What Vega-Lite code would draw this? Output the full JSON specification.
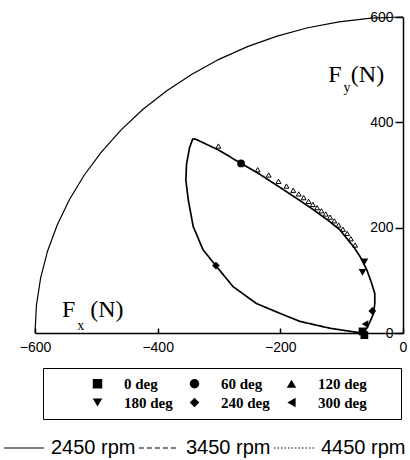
{
  "$schema": "https://vega.github.io/schema/vega-lite/v6.json",
  "width": 368,
  "height": 316,
  "autosize": {"type": "none"},
  "padding": {"left": 35, "top": 17, "right": 7, "bottom": 127},
  "background": "white",
  "config": {
    "view": {"stroke": null},
    "axis": {"grid": false, "domainColor": "black", "tickColor": "black", "labelColor": "black", "labelFont": "Liberation Sans", "labelFontSize": 14}
  },
  "datasets": {
    "arc": [
      {"x": -600, "y": 0, "o": 0}, {"x": -597.7, "y": 52.3, "o": 1}, {"x": -590.9, "y": 104.2, "o": 2},
      {"x": -579.6, "y": 155.3, "o": 3}, {"x": -563.8, "y": 205.2, "o": 4}, {"x": -543.8, "y": 253.6, "o": 5},
      {"x": -519.6, "y": 300, "o": 6}, {"x": -491.5, "y": 344.1, "o": 7}, {"x": -459.6, "y": 385.7, "o": 8},
      {"x": -424.3, "y": 424.3, "o": 9}, {"x": -385.7, "y": 459.6, "o": 10}, {"x": -344.1, "y": 491.5, "o": 11},
      {"x": -300, "y": 519.6, "o": 12}, {"x": -253.6, "y": 543.8, "o": 13}, {"x": -205.2, "y": 563.8, "o": 14},
      {"x": -155.3, "y": 579.6, "o": 15}, {"x": -104.2, "y": 590.9, "o": 16}, {"x": -52.3, "y": 597.7, "o": 17},
      {"x": 0, "y": 600, "o": 18}
    ],
    "loop": [
      {"x": -67, "y": 0, "o": 1, "rpm": "2450 rpm"}, {"x": -59, "y": 9, "o": 2, "rpm": "2450 rpm"},
      {"x": -54, "y": 21, "o": 3, "rpm": "2450 rpm"}, {"x": -48, "y": 37, "o": 4, "rpm": "2450 rpm"},
      {"x": -46, "y": 56, "o": 5, "rpm": "2450 rpm"}, {"x": -46, "y": 75, "o": 6, "rpm": "2450 rpm"},
      {"x": -51, "y": 94, "o": 7, "rpm": "2450 rpm"}, {"x": -59, "y": 120, "o": 8, "rpm": "2450 rpm"},
      {"x": -70, "y": 145, "o": 9, "rpm": "2450 rpm"}, {"x": -80, "y": 163, "o": 10, "rpm": "2450 rpm"},
      {"x": -92, "y": 180, "o": 11, "rpm": "2450 rpm"}, {"x": -103, "y": 196, "o": 12, "rpm": "2450 rpm"},
      {"x": -120, "y": 212, "o": 13, "rpm": "2450 rpm"}, {"x": -146, "y": 234, "o": 14, "rpm": "2450 rpm"},
      {"x": -170, "y": 253, "o": 15, "rpm": "2450 rpm"}, {"x": -200, "y": 276, "o": 16, "rpm": "2450 rpm"},
      {"x": -237, "y": 304, "o": 17, "rpm": "2450 rpm"}, {"x": -264, "y": 322, "o": 18, "rpm": "2450 rpm"},
      {"x": -300, "y": 347, "o": 19, "rpm": "2450 rpm"}, {"x": -338, "y": 368, "o": 20, "rpm": "2450 rpm"},
      {"x": -343, "y": 368, "o": 21, "rpm": "2450 rpm"}, {"x": -348, "y": 352, "o": 22, "rpm": "2450 rpm"},
      {"x": -353, "y": 320, "o": 23, "rpm": "2450 rpm"}, {"x": -354, "y": 290, "o": 24, "rpm": "2450 rpm"},
      {"x": -350, "y": 252, "o": 25, "rpm": "2450 rpm"}, {"x": -342, "y": 202, "o": 26, "rpm": "2450 rpm"},
      {"x": -326, "y": 158, "o": 27, "rpm": "2450 rpm"}, {"x": -306, "y": 129, "o": 28, "rpm": "2450 rpm"},
      {"x": -277, "y": 88, "o": 29, "rpm": "2450 rpm"}, {"x": -239, "y": 56, "o": 30, "rpm": "2450 rpm"},
      {"x": -200, "y": 37, "o": 31, "rpm": "2450 rpm"}, {"x": -168, "y": 22, "o": 32, "rpm": "2450 rpm"},
      {"x": -119, "y": 9, "o": 33, "rpm": "2450 rpm"}, {"x": -85, "y": 3, "o": 34, "rpm": "2450 rpm"},
      {"x": -67, "y": 0, "o": 35, "rpm": "2450 rpm"}
    ],
    "tri": [
      {"x": -301, "y": 355}, {"x": -237, "y": 310}, {"x": -219, "y": 300}, {"x": -203, "y": 288},
      {"x": -190, "y": 279}, {"x": -179, "y": 271}, {"x": -170, "y": 264}, {"x": -162, "y": 257},
      {"x": -154, "y": 250}, {"x": -147, "y": 244}, {"x": -140, "y": 238}, {"x": -133, "y": 232},
      {"x": -126, "y": 226}, {"x": -119, "y": 220}, {"x": -112, "y": 213}, {"x": -105, "y": 205},
      {"x": -98, "y": 197}, {"x": -91, "y": 189}, {"x": -85, "y": 179}, {"x": -78, "y": 167}
    ],
    "marks": [
      {"x": -63, "y": -4, "angle": "0 deg"}, {"x": -66, "y": 3, "angle": "0 deg"},
      {"x": -264, "y": 322, "angle": "60 deg"},
      {"x": -63, "y": 135, "angle": "180 deg"}, {"x": -66, "y": 115, "angle": "180 deg"},
      {"x": -305, "y": 128, "angle": "240 deg"}, {"x": -50, "y": 42, "angle": "240 deg"},
      {"x": -62, "y": 17, "angle": "300 deg"}
    ]
  },
  "encoding": {
    "x": {"field": "x", "type": "quantitative", "scale": {"domain": [-600, 0], "nice": false},
      "axis": {"values": [-600, -400, -200, 0], "title": null, "tickSize": -5, "tickWidth": 1.5, "domainWidth": 1.5, "labelPadding": 12, "labelFlush": false}},
    "y": {"field": "y", "type": "quantitative", "scale": {"domain": [0, 600], "nice": false},
      "axis": {"orient": "left", "offset": -368, "values": [0, 200, 400, 600], "title": null, "tickSize": 8, "tickWidth": 1.5, "domainWidth": 1.5, "labelPadding": 2, "labelFlush": false}}
  },
  "layer": [
    {"data": {"name": "arc"}, "mark": {"type": "line", "color": "black", "strokeWidth": 1.2}, "encoding": {"order": {"field": "o"}}},
    {"data": {"name": "loop"}, "mark": {"type": "line", "color": "black", "strokeWidth": 1.7},
      "encoding": {"order": {"field": "o"},
        "strokeDash": {"field": "rpm", "type": "nominal",
          "scale": {"domain": ["2450 rpm", "3450 rpm", "4450 rpm"], "range": [[1, 0], [5, 3], [1.5, 2]]},
          "legend": {"title": null, "orient": "none", "legendX": -32, "legendY": 410, "direction": "horizontal",
            "symbolType": "stroke", "symbolSize": 1600, "symbolStrokeWidth": 1.2, "symbolStrokeColor": "black",
            "labelFont": "Liberation Sans", "labelFontSize": 20, "labelColor": "black", "labelOffset": 6,
            "columnPadding": 0, "padding": 0}}}},
    {"data": {"name": "tri"}, "mark": {"type": "point", "shape": "triangle-up", "filled": false, "color": "black", "size": 24, "strokeWidth": 1, "opacity": 1}},
    {"data": {"name": "marks"}, "mark": {"type": "point", "filled": true, "color": "black", "size": 60, "opacity": 1},
      "encoding": {"shape": {"field": "angle", "type": "nominal",
        "scale": {"domain": ["0 deg", "60 deg", "120 deg", "180 deg", "240 deg", "300 deg"],
          "range": ["square", "circle", "triangle-up", "triangle-down", "diamond", "triangle-left"]},
        "legend": {"title": "\u00a0", "titleOrient": "left", "titlePadding": 39, "orient": "none", "legendX": 8, "legendY": 351,
          "direction": "horizontal", "columns": 3, "symbolSize": 90, "symbolFillColor": "black", "symbolStrokeColor": "black",
          "labelFont": "Liberation Serif", "labelFontWeight": "bold", "labelFontSize": 15, "labelColor": "black",
          "labelOffset": 19, "columnPadding": 13, "rowPadding": 2, "padding": 8, "strokeColor": "black",
          "labelExpr": "indexof(['120 deg','300 deg'], datum.label) >= 0 ? datum.label + '\u00a0\u00a0\u00a0\u00a0\u00a0\u00a0\u00a0\u200b' : datum.label"}}}},
    {"data": {"values": [{"x": -122, "y": 477, "t": "F"}, {"x": -85, "y": 477, "t": "(N)"}, {"x": -556, "y": 31, "t": "F"}, {"x": -510, "y": 31, "t": "(N)"}]},
      "mark": {"type": "text", "align": "left", "baseline": "alphabetic", "font": "Liberation Serif", "fontSize": 24, "color": "black"},
      "encoding": {"text": {"field": "t"}}},
    {"data": {"values": [{"x": -97, "y": 458, "t": "y"}, {"x": -531, "y": 6, "t": "x"}]},
      "mark": {"type": "text", "align": "left", "baseline": "alphabetic", "font": "Liberation Serif", "fontSize": 14, "color": "black"},
      "encoding": {"text": {"field": "t"}}}
  ]
}
